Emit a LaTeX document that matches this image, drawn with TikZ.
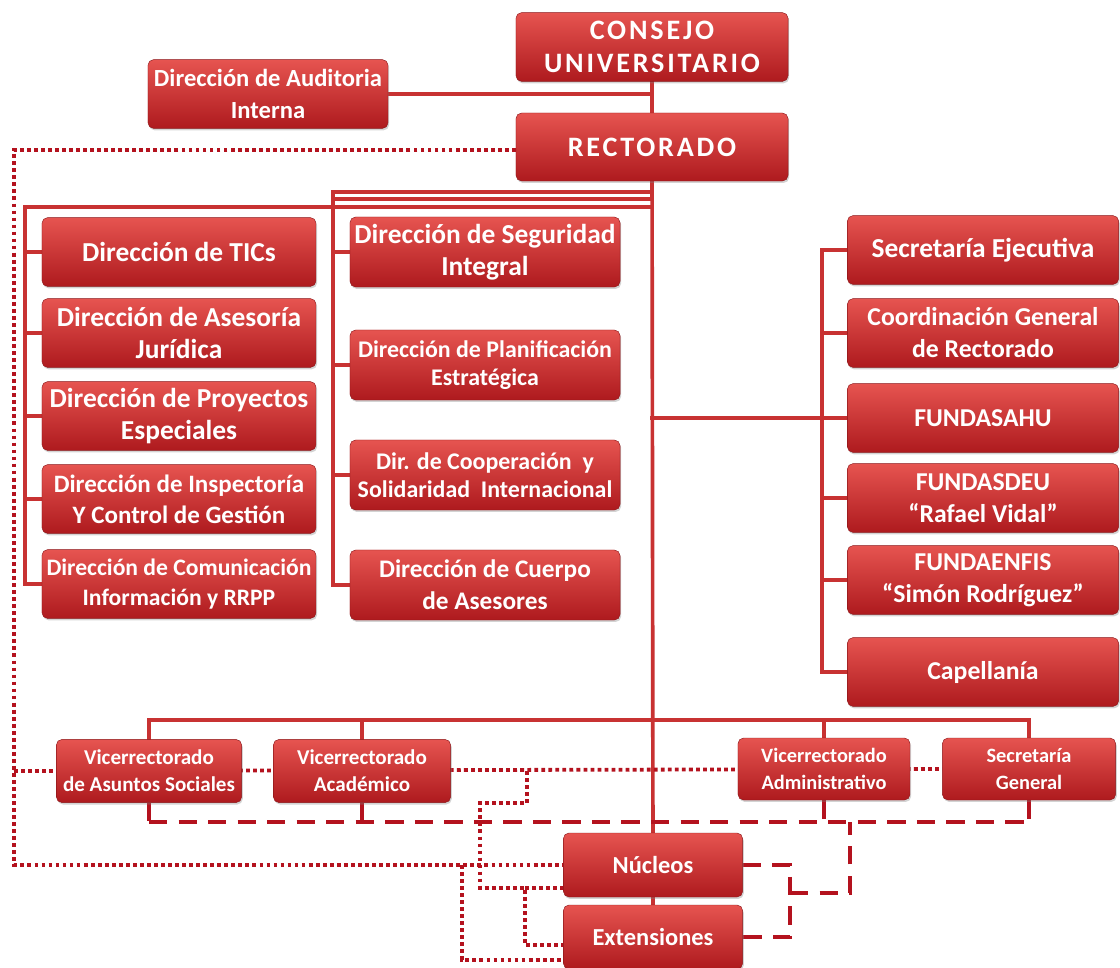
\documentclass[tikz,border=0pt]{standalone}
\usepackage{fontspec}
\setmainfont{Carlito}
\usepackage{tikz}
\usetikzlibrary{positioning, calc, shadows, backgrounds}
\definecolor{boxtop}{RGB}{230,84,80}
\definecolor{boxbot}{RGB}{174,26,30}
\definecolor{wirered}{RGB}{200,50,50}
\definecolor{dotred}{RGB}{180,18,30}
\tikzset{
    orgbox/.style={
        rectangle,
        rounded corners=4pt,
        top color=boxtop,
        bottom color=boxbot,
        draw=boxbot!80!black,
        line width=0.3pt,
        text=white,
        align=center,
        inner sep=0pt,
        drop shadow={shadow xshift=0.8pt, shadow yshift=-1.4pt, opacity=0.35}
    },
    headbox/.style={
        orgbox,
        minimum width=6.8cm,
        minimum height=1.72cm,
        font=\fontsize{20}{23.4}\selectfont\bfseries\addfontfeature{LetterSpace=10}
    },
    bigbox/.style={
        orgbox,
        minimum width=6.85cm,
        minimum height=1.72cm,
        font=\fontsize{19.5}{22.7}\selectfont\bfseries
    },
    sidebox/.style={
        orgbox,
        minimum width=6.78cm,
        minimum height=1.72cm,
        font=\fontsize{18.3}{22.7}\selectfont\bfseries
    },
    midbox/.style={
        orgbox,
        minimum width=6.75cm,
        minimum height=1.75cm,
        font=\fontsize{19.5}{22.7}\selectfont\bfseries
    },
    smallbox/.style={
        orgbox,
        minimum width=4.45cm,
        minimum height=1.58cm,
        font=\fontsize{15}{19}\selectfont\bfseries
    },
    link/.style={
        draw=wirered,
        line width=2.6pt,
        line cap=rect
    },
    dotlink/.style={
        draw=dotred,
        line width=2.7pt,
        dash pattern=on 2.7pt off 2.3pt
    },
    dashlink/.style={
        draw=dotred,
        line width=2.5pt,
        dash pattern=on 13pt off 8pt
    }
}

\begin{document}
\begin{tikzpicture}[x=0.025cm, y=-0.025cm]
\useasboundingbox (0,0) rectangle (1120,968);

% Top: council, audit and rectorate
\node[headbox] (consejo) at (652,47) {CONSEJO\\UNIVERSITARIO};
\node[bigbox, minimum width=6cm, font=\fontsize{17.5}{22.7}\selectfont\bfseries] (audit) at (268,94) {Dirección de Auditoria\\Interna};
\node[headbox, minimum height=1.7cm] (rector) at (652,147) {RECTORADO};

% Left column
\node[bigbox] (tics) at (179,252) {Dirección de TICs};
\node[bigbox] (jur) at (179,333) {Dirección de Asesoría\\Jurídica};
\node[bigbox] (proy) at (179,416) {Dirección de Proyectos\\Especiales};
\node[bigbox, font=\fontsize{17.8}{22}\selectfont\bfseries] (insp) at (179,499) {Dirección de Inspectoría\\Y Control de Gestión};
\node[bigbox, font=\fontsize{16.8}{21}\selectfont\bfseries] (comu) at (179,584) {Dirección de Comunicación\\Información y RRPP};

% Middle column
\node[midbox] (seg) at (485,252) {Dirección de Seguridad\\Integral};
\node[midbox, font=\fontsize{17}{20}\selectfont\bfseries] (plan) at (485,365) {Dirección de Planificación\\Estratégica};
\node[midbox, font=\fontsize{17}{20}\selectfont\bfseries] (coop) at (485,475) {Dir. de Cooperación~ y\\Solidaridad~ Internacional};
\node[midbox, font=\fontsize{18}{22.7}\selectfont\bfseries] (cuerpo) at (485,585) {Dirección de Cuerpo\\de Asesores};

% Right column
\node[sidebox, font=\fontsize{19.5}{22.7}\selectfont\bfseries] (secej) at (983,250) {Secretaría Ejecutiva};
\node[sidebox] (coord) at (983,333) {Coordinación General\\de Rectorado};
\node[sidebox] (fsahu) at (983,418) {FUNDASAHU};
\node[sidebox] (fsdeu) at (983,498) {FUNDASDEU\\“Rafael Vidal”};
\node[sidebox] (fenfis) at (983,580) {FUNDAENFIS\\“Simón Rodríguez”};
\node[sidebox] (capel) at (983,672) {Capellanía};

% Bottom: vice-rectorates, nuclei
\node[smallbox, minimum width=4.63cm] (vras) at (149,771) {Vicerrectorado\\de Asuntos Sociales};
\node[smallbox, minimum width=4.43cm] (vraca) at (362,771) {Vicerrectorado\\Académico};
\node[smallbox, minimum width=4.3cm, minimum height=1.55cm, font=\fontsize{14.5}{19}\selectfont\bfseries] (vradm) at (824,769) {Vicerrectorado\\Administrativo};
\node[smallbox, minimum width=4.33cm, minimum height=1.55cm, font=\fontsize{14.5}{19}\selectfont\bfseries] (sgen) at (1029,769) {Secretaría\\General};
\node[smallbox, minimum width=4.48cm, minimum height=1.6cm, font=\fontsize{17.4}{20}\selectfont\bfseries] (nucleos) at (653,865) {Núcleos};
\node[smallbox, minimum width=4.48cm, minimum height=1.6cm, font=\fontsize{17.4}{20}\selectfont\bfseries] (ext) at (653,937) {Extensiones};

\begin{scope}[on background layer]
\coordinate (midtop) at (333,192);
\coordinate (midtop2) at (337,199);
\coordinate (lefttop) at (25,207);
\coordinate (rightbus) at (822,418);
\coordinate (vrbus) at (0,720);
\coordinate (dashbus) at (0,822);
\coordinate (dotleft) at (14,0);

% solid lines
\draw[link] (consejo) -- (rector);
\draw[link] (audit.east) -- (audit.east -| consejo.south);
\draw[link] (rector) -- (nucleos);
\draw[link] (nucleos) -- (ext);
\draw[link] (midtop -| rector.south) -- (midtop) -- (midtop |- cuerpo.west);
\draw[link] (midtop2 -| rector.south) -- (midtop2);
\draw[link] (lefttop -| rector.south) -- (lefttop) -- (lefttop |- comu.west);
\foreach \n in {tics,jur,proy,insp,comu}
    \draw[link] (lefttop |- \n.west) -- (\n.west);
\foreach \n in {seg,plan,coop,cuerpo}
    \draw[link] (midtop |- \n.west) -- (\n.west);
\draw[link] (rightbus -| rector.south) -- (rightbus);
\draw[link] (rightbus |- secej.west) -- (rightbus |- capel.west);
\foreach \n in {secej,coord,fsahu,fsdeu,fenfis,capel}
    \draw[link] (rightbus |- \n.west) -- (\n.west);
\draw[link] (vras.north |- vrbus) -- (sgen.north |- vrbus);
\foreach \n in {vras,vraca,vradm,sgen}
    \draw[link] (\n.north |- vrbus) -- (\n.north);

% dotted lines
\draw[dotlink] ([yshift=-2pt]rector.west) -| (dotleft |- nucleos.west) -- (nucleos.west);
\draw[dotlink] (dotleft |- vras.west) -- (sgen.west);
\coordinate (jogA) at (527,803);
\coordinate (jogB) at (480,888);
\coordinate (jogC) at (525,945);
\coordinate (jogD) at (462,960);
\draw[dotlink] (jogA |- vras.east) -- (jogA) -| (jogB) -| (jogC) -- (jogC -| ext.west);
\draw[dotlink] (jogB -| jogC) -- (jogB -| nucleos.west);
\draw[dotlink] (jogD |- nucleos.west) -- (jogD) -- (jogD -| ext.west);

% dashed lines
\draw[dashlink] (vras.south |- dashbus) -- (sgen.south |- dashbus);
\foreach \n in {vras,vraca,vradm,sgen}
    \draw[dashlink] (\n.south) -- (\n.south |- dashbus);
\coordinate (dj) at (790,893);
\coordinate (dk) at (850,893);
\draw[dashlink] (nucleos.east) -- (nucleos.east -| dj) -- (dj |- ext.east) -- (ext.east);
\draw[dashlink] (dj) -- (dk) -- (dk |- dashbus);
\end{scope}

\end{tikzpicture}
\end{document}
